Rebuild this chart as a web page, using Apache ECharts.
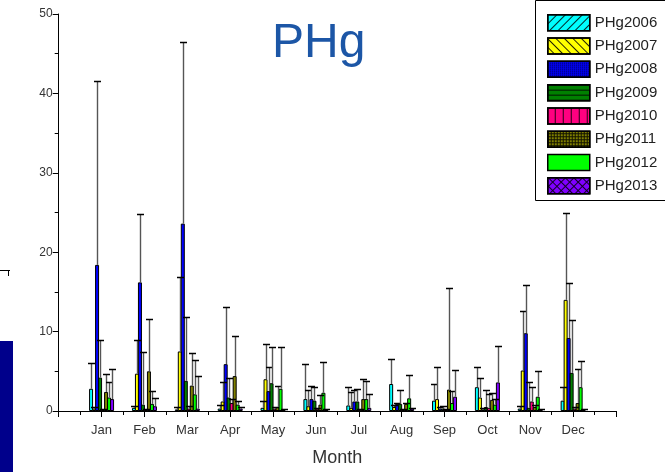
<!DOCTYPE html>
<html>
<head>
<meta charset="utf-8">
<script src="https://cdn.jsdelivr.net/npm/echarts@6/dist/echarts.min.js"></script>
<style>
html,body{margin:0;padding:0;background:#fff;}
#chart{width:665px;height:472px;}
</style>
</head>
<body>
<div id="chart"></div>
<script>
// ---- data ----
const months = ['Jan','Feb','Mar','Apr','May','Jun','Jul','Aug','Sep','Oct','Nov','Dec'];
const monthPos = [1,2,3,4,5,6,7,8,9,10,11,12];
const seriesNames = ['PHg2006','PHg2007','PHg2008','PHg2009','PHg2010','PHg2011','PHg2012','PHg2013'];

const phg2006 = [2.8, 0.4, 0.2, 0.3, 0.4, 1.5, 0.7, 3.4, 1.3, 3.0, 0.3, 1.3];
const phg2007 = [0.3, 4.7, 7.5, 1.2, 4.0, 0.6, 0.4, 0.5, 1.5, 1.7, 5.1, 14.0];
const phg2008 = [18.4, 16.2, 23.6, 5.9, 2.5, 1.5, 1.2, 0.9, 0.3, 0.2, 9.8, 9.2];
const phg2009 = [4.2, 0.8, 3.8, 1.7, 3.5, 1.3, 1.2, 0.9, 0.3, 0.5, 0.4, 4.8];
const phg2010 = [0.2, 0.2, 0.3, 1.0, 0.3, 0.3, 0.1, 0.2, 0.2, 0.4, 1.2, 0.3];
const phg2011 = [2.4, 5.0, 3.2, 4.4, 0.5, 0.8, 1.5, 0.9, 2.7, 1.4, 0.5, 1.0];
const phg2012 = [1.7, 0.9, 2.1, 0.8, 2.8, 2.3, 1.5, 1.6, 1.0, 0.8, 1.8, 3.0];
const phg2013 = [1.5, 0.6, 0.3, 0.3, 0.2, 0.2, 0.4, 0.3, 1.8, 3.6, 0.2, 0.2];

// standard deviations (error bar lengths)
const sd2006 = [3.2, 0.2, 0.3, 0.4, 0.8, 4.4, 2.3, 3.2, 2.1, 2.6, 0.3, 1.7];
const sd2007 = [0.2, 4.2, 9.4, 2.5, 4.5, 2.0, 2.0, 0.3, 4.0, 2.5, 7.5, 10.9];
const sd2008 = [23.1, 8.6, 22.9, 7.2, 3.0, 1.7, 1.4, 0.1, 0.2, 0.2, 6.1, 6.9];
const sd2009 = [4.7, 6.6, 8.0, 2.5, 4.5, 1.7, 1.6, 1.8, 0.3, 2.1, 3.2, 6.7];
const sd2010 = [0.1, 0.1, 0.3, 0.5, 0.2, 0.1, 0.1, 0.1, 0.1, 1.8, 1.8, 0.2];
const sd2011 = [2.3, 6.6, 4.1, 5.0, 2.6, 1.2, 2.5, 0.1, 12.8, 0.9, 0.3, 4.3];
const sd2012 = [2.0, 1.6, 4.3, 0.5, 5.2, 3.9, 2.3, 2.9, 1.5, 0.7, 3.2, 3.3];
const sd2013 = [3.8, 1.1, 4.1, 0.2, 0.1, 0.1, 1.8, 0.1, 3.4, 4.6, 0.1, 0.1];

const yTicks = {min: 0, max: 50, interval: 10};
const xRange = {min: 0, max: 13, interval: 1};

const values = [phg2006, phg2007, phg2008, phg2009, phg2010, phg2011, phg2012, phg2013];
const sds = [sd2006, sd2007, sd2008, sd2009, sd2010, sd2011, sd2012, sd2013];

// ---- styles ----
const colors = ['#00FFFF','#FFFF00','#0000FF','#008000','#FF0080','#808000','#00FF00','#8000FF'];
const K = 'rgba(0,0,0,0.85)';
const decals = [
  {symbol:'rect', symbolSize:1, color:K, dashArrayX:[1,0], dashArrayY:[1,5], rotation:-Math.PI/4},
  {symbol:'rect', symbolSize:1, color:K, dashArrayX:[1,0], dashArrayY:[1,5], rotation:Math.PI/4},
  {symbol:'rect', symbolSize:1, color:K, dashArrayX:[1,1], dashArrayY:[1,1], rotation:0},
  {symbol:'rect', symbolSize:1, color:K, dashArrayX:[1,0], dashArrayY:[1,4], rotation:0},
  {symbol:'rect', symbolSize:1, color:K, dashArrayX:[1,0], dashArrayY:[1,7], rotation:Math.PI/2},
  {symbol:'rect', symbolSize:1, color:K, dashArrayX:[[1,0],[1,2],[1,2]], dashArrayY:[1,0], rotation:0},
  null,
  {symbol:'rect', symbolSize:1, color:K, dashArrayX:[[1,0],[1,5],[1,5],[1,5],[1,5],[1,5]], dashArrayY:[1,0], rotation:Math.PI/4}
];
const BW = 4;      // bar width (px)
const STEP = 3;    // distance between neighbouring bars in a group (px)
const FONT = 'Liberation Sans, Arial, sans-serif';

const barSeries = seriesNames.map((name, i) => ({
  name: name,
  type: 'bar',
  barWidth: BW,
  barGap: ((STEP - BW) / BW * 100) + '%',
  data: monthPos.map((m, j) => [m, values[i][j]]),
  itemStyle: {color: colors[i], borderColor: '#000', borderWidth: 1},
  emphasis: {disabled: true},
  z: 2
}));

const errData = [];
seriesNames.forEach((n, i) => {
  monthPos.forEach((m, j) => {
    errData.push([m, values[i][j] + sds[i][j], i, values[i][j]]);
  });
});

const errSeries = {
  type: 'custom',
  name: 'err',
  data: errData,
  encode: {x: 0, y: [1, 3]},
  z: 5,
  silent: true,
  renderItem: function (params, api) {
    const m = api.value(0), top = api.value(1), si = api.value(2), v = api.value(3);
    const base = api.coord([m, v]);
    const tp = api.coord([m, top]);
    const x = Math.round(base[0] + (si - 3.5) * STEP) + 0.5;
    const yt = Math.round(tp[1]) + 0.5;
    return {
      type: 'group',
      children: [
        {type: 'line', shape: {x1: x, y1: base[1], x2: x, y2: yt}, style: {stroke: '#555', lineWidth: 1.4}},
        {type: 'line', shape: {x1: x - 3.5, y1: yt, x2: x + 3.5, y2: yt}, style: {stroke: '#000', lineWidth: 1.5}}
      ]
    };
  }
};

const legendData = seriesNames.map((n, i) => {
  const item = {name: n, itemStyle: {color: colors[i], borderColor: '#000', borderWidth: 1.5}};
  if (decals[i]) item.itemStyle.decal = decals[i];
  return item;
});

const chart = echarts.init(document.getElementById('chart'), null, {renderer: 'canvas'});
chart.setOption({
  animation: false,
  backgroundColor: '#fff',
  title: {
    text: 'PHg', left: 267, top: 15,
    textStyle: {color: '#1c56a6', fontSize: 48, fontWeight: 'normal', fontFamily: FONT}
  },
  legend: {
    orient: 'vertical', left: 547, top: 14, padding: 0,
    itemWidth: 42, itemHeight: 16, itemGap: 5.8,
    icon: 'rect',
    data: legendData,
    selectedMode: false,
    textStyle: {fontSize: 15, color: '#222', fontFamily: FONT}
  },
  grid: {left: 58.7, right: 49, top: 14, bottom: 57, containLabel: false},
  xAxis: {
    type: 'value', min: xRange.min, max: xRange.max, interval: xRange.interval,
    name: 'Month', nameLocation: 'middle', nameGap: 38,
    nameTextStyle: {fontSize: 18, color: '#333', fontFamily: FONT},
    axisLine: {onZero: false, lineStyle: {color: '#000', width: 1}},
    axisTick: {show: true, length: 6, lineStyle: {color: '#000'}},
    minorTick: {show: true, splitNumber: 2, length: 4, lineStyle: {color: '#000'}},
    splitLine: {show: false},
    axisLabel: {
      margin: 13, fontSize: 13, color: '#333', fontFamily: FONT,
      formatter: v => (v >= 1 && v <= 12) ? months[v - 1] : ''
    }
  },
  yAxis: {
    type: 'value', min: yTicks.min, max: yTicks.max, interval: yTicks.interval,
    axisLine: {show: true, lineStyle: {color: '#000', width: 1}},
    axisTick: {show: true, length: 6, lineStyle: {color: '#000'}},
    minorTick: {show: true, splitNumber: 2, length: 4, lineStyle: {color: '#000'}},
    splitLine: {show: false},
    axisLabel: {margin: 6, fontSize: 12, color: '#333', fontFamily: FONT}
  },
  graphic: [
    {type: 'rect', left: 533, top: -2, shape: {width: 140, height: 200}, style: {fill: 'none', stroke: '#000', lineWidth: 1}, z: 0},
    {type: 'rect', left: 0, top: 341, shape: {width: 13, height: 131}, style: {fill: '#00008B'}},
    {type: 'line', shape: {x1: 0, y1: 270.5, x2: 10, y2: 270.5}, style: {stroke: '#000', lineWidth: 1}},
    {type: 'line', shape: {x1: 8.5, y1: 270, x2: 8.5, y2: 276}, style: {stroke: '#000', lineWidth: 1}}
  ],
  series: barSeries.concat([errSeries])
});
</script>
</body>
</html>
